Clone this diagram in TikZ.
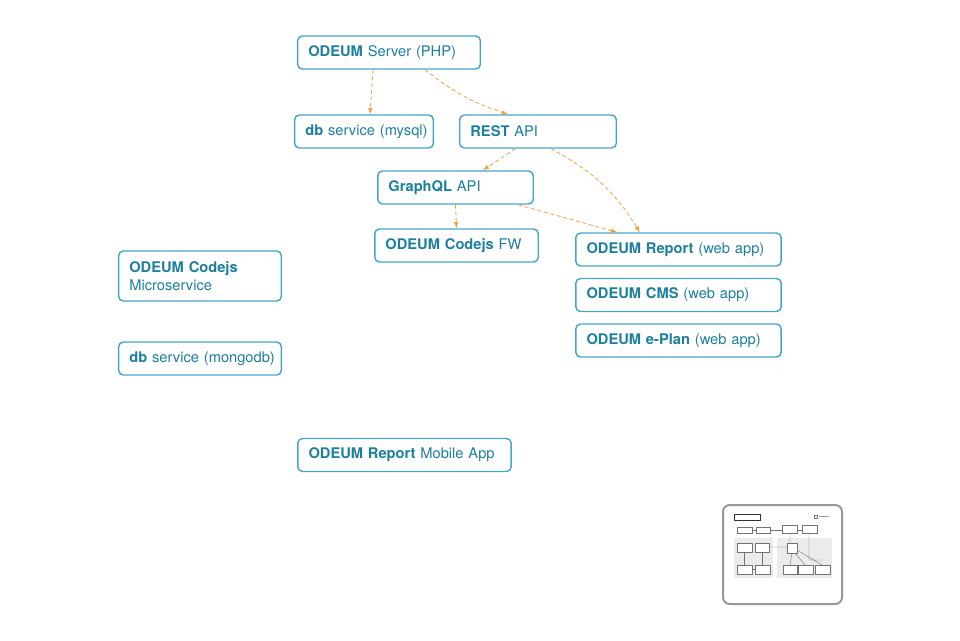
\documentclass[tikz,border=0pt]{standalone}
\usepackage{fontspec}
\setmainfont{TeX Gyre Heros}
\usetikzlibrary{positioning}
\definecolor{odeumblue}{HTML}{45A6CB}
\definecolor{odeumtext}{HTML}{1C7F9E}
\definecolor{linkorange}{HTML}{F0A040}
\begin{document}
\begin{tikzpicture}[x=0.75pt,y=0.75pt,yscale=-1,xscale=1,
  box/.style={draw=odeumblue, fill=white, text=odeumtext, rounded corners=3.5pt,
    line width=1.1pt, inner xsep=8pt, inner ysep=3pt, text width=#1, align=left,
    minimum height=24.75pt, font=\fontsize{11}{14}\selectfont},
  link/.style={draw=linkorange, dash pattern=on 3pt off 2pt, line width=0.6pt, ->, >=latex},
  mini/.style={draw=black!55, line width=0.3pt, fill=white}]

\useasboundingbox (0,0) rectangle (960,640);

%%%%%%%%%%%%%%%%%%%%%%%%%%%%%%%%%%%%%%%%%%%%%%%%%%%%%%%%%%%%%%%%%%%%%%%%

\node[box=121pt] (server) at (389,52.5) {\mbox{\textbf{ODEUM} Server (PHP)}};
\node[box=88pt] (mysql) at (364,131.5) {\mbox{\textbf{db} service (mysql)}};
\node[box=101.4pt] (rest) at (538,131.5) {\mbox{\textbf{REST} API}};
\node[box=100.6pt] (graphql) at (455.5,187.5) {\mbox{\textbf{GraphQL} API}};
\node[box=106.6pt] (codejs) at (456.5,245.5) {\mbox{\textbf{ODEUM Codejs} FW}};

%%%%%%%%%%%%%%%%%%%%%%%%%%%%%%%%%%%%%%%%%%%%%%%%%%%%%%%%%%%%%%%%%%%%%%%%

\node[box=138pt] (report) at (678.5,249.5) {\mbox{\textbf{ODEUM Report} (web app)}};
\node[box=138pt] (cms) at (678.5,295) {\mbox{\textbf{ODEUM CMS} (web app)}};
\node[box=138pt] (eplan) at (678.5,340.5) {\mbox{\textbf{ODEUM e-Plan} (web app)}};

%%%%%%%%%%%%%%%%%%%%%%%%%%%%%%%%%%%%%%%%%%%%%%%%%%%%%%%%%%%%%%%%%%%%%%%%

\node[box=106pt, minimum height=37.5pt] (micro) at (200,276) {\textbf{ODEUM Codejs}\\Microservice};
\node[box=106pt] (mongo) at (200,358.5) {\mbox{\textbf{db} service (mongodb)}};
\node[box=144pt] (mobile) at (404.5,455) {\mbox{\textbf{ODEUM Report} Mobile App}};

%%%%%%%%%%%%%%%%%%%%%%%%%%%%%%%%%%%%%%%%%%%%%%%%%%%%%%%%%%%%%%%%%%%%%%%%

\draw[link] ([xshift=-12pt]server.south) -- ([xshift=4.5pt]mysql.north);
\draw[link] ([xshift=27pt]server.south) to[bend left=10] ([xshift=-22.5pt]rest.north);
\draw[link] ([xshift=-17pt]rest.south) -- ([xshift=20.5pt]graphql.north);
\draw[link] ([xshift=9.75pt]rest.south) to[bend right=15] ([xshift=-29pt]report.north);
\draw[link] (graphql.south) -- (codejs.north);
\draw[link] ([xshift=47pt]graphql.south) -- ([xshift=-46pt]report.north);

%%%%%%%%%%%%%%%%%%%%%%%%%%%%%%%%%%%%%%%%%%%%%%%%%%%%%%%%%%%%%%%%%%%%%%%%

\draw [draw=black!40, line width=1.5, rounded corners=5pt, fill=white] (723,505) rectangle (842,604);
\fill [black!8] (734,538) rectangle (773,578);
\fill [black!8] (777,538) rectangle (832,578);
\draw [mini, draw=black!80, line width=0.6pt] (734,514) rectangle (760,520);
\draw [mini] (814,515) rectangle (817,518);
\draw [black!40, line width=0.6pt] (819,516.5) -- (829,516.5);

\draw [mini] (737,527) rectangle (752,533);
\draw [mini] (756,527) rectangle (770,533);
\draw [mini] (782,525) rectangle (797,533);
\draw [mini] (802,525) rectangle (817,533);
\draw [black!55, line width=0.3pt] (752,530) -- (756,530) (770,530) -- (782,530) (797,530) -- (802,530);

\draw [mini] (737,543) rectangle (752,552);
\draw [mini] (755,543) rectangle (769,552);
\draw [mini] (737,565) rectangle (752,574);
\draw [mini] (755,565) rectangle (770,574);
\draw [black!55, line width=0.3pt] (744.5,552) -- (744.5,565) (762,552) -- (762,565) (752,569.5) -- (755,569.5);

\draw [mini] (787,543) rectangle (797,553);
\draw [mini] (783,565) rectangle (797,574);
\draw [mini] (798,565) rectangle (813,574);
\draw [mini] (815,565) rectangle (830,574);
\draw [black!55, line width=0.3pt] (769,547) -- (787,547) (792,553) -- (790,565) (795,553) -- (805,565)
  (797,550) -- (822,565) (809,533) -- (809,560) -- (822,560) (790,533) -- (790,543);

\end{tikzpicture}
\end{document}
